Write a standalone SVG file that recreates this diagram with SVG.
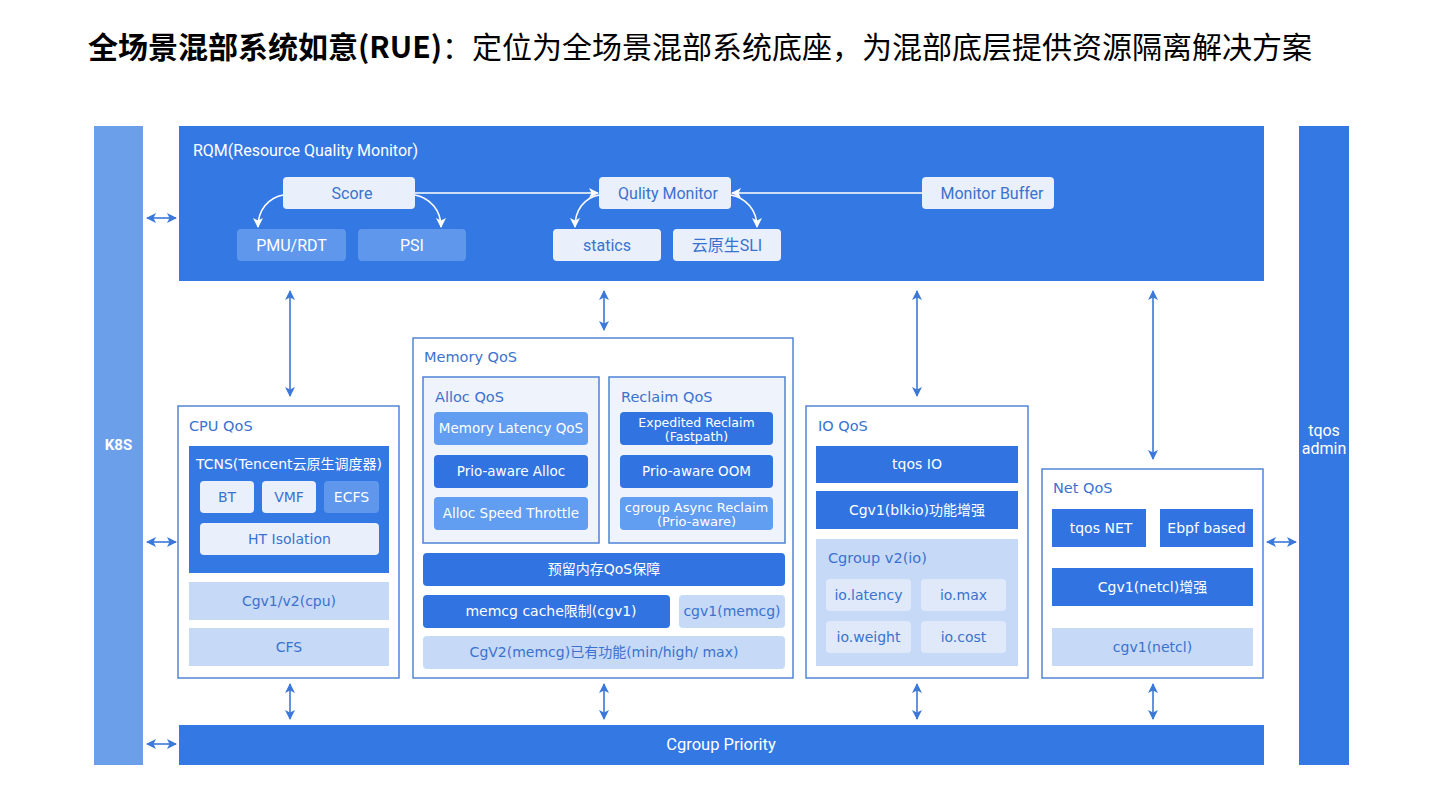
<svg xmlns="http://www.w3.org/2000/svg" width="1440" height="810" viewBox="0 0 1440 810">
<defs>
<style>
text{font-family:Roboto,"Noto Sans CJK SC",sans-serif;font-size:16px}
.m text{font-family:"DejaVu Sans","Noto Sans CJK SC",sans-serif;font-size:14px}
.m text.t{font-size:14.5px}
.w{fill:#ffffff}
.b{fill:#3a72cf}
.c{text-anchor:middle}
.main{fill:#3478e4}
.k8s{fill:#6b9fea}
.cont{fill:#ffffff;stroke:#5286d8;stroke-width:1.5}
.sub{fill:#eef3fc;stroke:#4f83d6;stroke-width:1.5}
.dark{fill:#3174e1}
.pale{fill:#c6d9f6}
.lite{fill:#619df0}
.node{fill:#e9f0fc}
.rlite{fill:#5e97ec}
.io{fill:#dfe9fa}
.conn{stroke:#3b78d9;stroke-width:1.6;fill:none}
.wconn{stroke:#ffffff;stroke-width:1.6;fill:none}
</style>
<marker id="ab" viewBox="0 0 10 10" refX="9" refY="5" markerWidth="10" markerHeight="10" markerUnits="userSpaceOnUse" orient="auto-start-reverse">
<path d="M0,0 L10,5 L0,10 L2.5,5 z" fill="#3b78d9"/>
</marker>
<marker id="aw" viewBox="0 0 10 10" refX="9" refY="5" markerWidth="10" markerHeight="10" markerUnits="userSpaceOnUse" orient="auto-start-reverse">
<path d="M0,0 L10,5 L0,10 L2.5,5 z" fill="#ffffff"/>
</marker>
</defs>
<rect width="1440" height="810" fill="#ffffff"/>

<text x="88" y="58" style="font-family:'Noto Sans CJK SC',sans-serif;font-size:30px" fill="#000"><tspan font-weight="bold">全场景混部系统如意(RUE)</tspan><tspan>：定位为全场景混部系统底座，为混部底层提供资源隔离解决方案</tspan></text>

<g id="k8s">
<rect class="k8s" x="94" y="126" width="49" height="639"/>
<text class="w c" x="118.5" y="450" font-weight="bold" style="font-size:15px">K8S</text>
</g>

<g id="tqos-admin">
<rect class="main" x="1299" y="126" width="50" height="639"/>
<text class="w c" x="1324" y="436">tqos</text>
<text class="w c" x="1324" y="454">admin</text>
</g>

<g id="rqm">
<rect class="main" x="179" y="126" width="1085" height="155"/>
<text class="w" x="193" y="156">RQM(Resource Quality Monitor)</text>
</g>
<g id="score"><rect class="node" x="283" y="177" width="132" height="32" rx="4"/><text class="b c" x="352" y="199">Score</text></g>
<g id="pmu"><rect class="rlite" x="237" y="229" width="109" height="32" rx="4"/><text class="w c" x="291.5" y="251">PMU/RDT</text></g>
<g id="psi"><rect class="rlite" x="358" y="229" width="108" height="32" rx="4"/><text class="w c" x="412" y="251">PSI</text></g>
<g id="qm"><rect class="node" x="599" y="177" width="132" height="32" rx="4"/><text class="b c" x="668" y="199">Qulity Monitor</text></g>
<g id="statics"><rect class="node" x="553" y="229" width="108" height="32" rx="4"/><text class="b c" x="607" y="251">statics</text></g>
<g id="sli"><rect class="node" x="673" y="229" width="108" height="32" rx="4"/><text class="b c" x="727" y="251">云原生SLI</text></g>
<g id="mb"><rect class="node" x="922" y="177" width="132" height="32" rx="4"/><text class="b c" x="992" y="199">Monitor Buffer</text></g>

<g id="cpu-qos" class="m">
<rect class="cont" x="178" y="406" width="221" height="272"/>
<text class="b t" x="189" y="431">CPU QoS</text>
<rect class="main" x="189" y="446" width="200" height="127"/>
<text class="w c" x="289" y="469">TCNS(Tencent云原生调度器)</text>
<rect class="node" x="200" y="481" width="54" height="32" rx="4"/><text class="b c" x="227" y="502">BT</text>
<rect class="node" x="262" y="481" width="54" height="32" rx="4"/><text class="b c" x="289" y="502">VMF</text>
<rect class="rlite" x="324" y="481" width="55" height="32" rx="4"/><text class="w c" x="351.5" y="502">ECFS</text>
<rect class="node" x="200" y="523" width="179" height="32" rx="4"/><text class="b c" x="289.5" y="544">HT Isolation</text>
<rect class="pale" x="189" y="582" width="200" height="38"/><text class="b c" x="289" y="606">Cgv1/v2(cpu)</text>
<rect class="pale" x="189" y="628" width="200" height="38"/><text class="b c" x="289" y="652">CFS</text>
</g>

<g id="memory-qos" class="m">
<rect class="cont" x="413" y="338" width="380" height="340"/>
<text class="b t" x="424" y="362">Memory QoS</text>
<rect class="sub" x="423" y="377" width="176" height="166"/>
<text class="b t" x="435" y="402">Alloc QoS</text>
<rect class="lite" x="434" y="412" width="154" height="33" rx="4"/><text class="w c" x="511" y="433" style="font-size:13.5px">Memory Latency QoS</text>
<rect class="dark" x="434" y="455" width="154" height="33" rx="4"/><text class="w c" x="511" y="476" style="font-size:13.5px">Prio-aware Alloc</text>
<rect class="lite" x="434" y="497" width="154" height="33" rx="4"/><text class="w c" x="511" y="518" style="font-size:13.5px">Alloc Speed Throttle</text>
<rect class="sub" x="609" y="377" width="176" height="166"/>
<text class="b t" x="621" y="402">Reclaim QoS</text>
<rect class="dark" x="620" y="412" width="153" height="33" rx="4"/><text class="w c" x="696.5" y="427" style="font-size:12.5px">Expedited Reclaim</text><text class="w c" x="696.5" y="441" style="font-size:12.5px">(Fastpath)</text>
<rect class="dark" x="620" y="455" width="153" height="33" rx="4"/><text class="w c" x="696.5" y="476" style="font-size:13.5px">Prio-aware OOM</text>
<rect class="lite" x="620" y="497" width="153" height="33" rx="4"/><text class="w c" x="696.5" y="512" style="font-size:13px">cgroup Async Reclaim</text><text class="w c" x="696.5" y="526" style="font-size:13px">(Prio-aware)</text>
<rect class="dark" x="423" y="553" width="362" height="33" rx="4"/><text class="w c" x="604" y="574">预留内存QoS保障</text>
<rect class="dark" x="423" y="595" width="247" height="33" rx="4"/><text class="w c" x="551" y="616">memcg cache限制(cgv1)</text>
<rect class="pale" x="679" y="595" width="106" height="33" rx="4"/><text class="b c" x="732" y="616">cgv1(memcg)</text>
<rect class="pale" x="423" y="636" width="362" height="33" rx="4"/><text class="b c" x="604" y="657">CgV2(memcg)已有功能(min/high/ max)</text>
</g>

<g id="io-qos" class="m">
<rect class="cont" x="806" y="406" width="222" height="272"/>
<text class="b t" x="818" y="431">IO QoS</text>
<rect class="dark" x="816" y="446" width="202" height="37"/><text class="w c" x="917" y="469">tqos IO</text>
<rect class="dark" x="816" y="491" width="202" height="38"/><text class="w c" x="917" y="515">Cgv1(blkio)功能增强</text>
<rect class="pale" x="816" y="539" width="202" height="127"/>
<text class="b t" x="828" y="563">Cgroup v2(io)</text>
<rect class="io" x="826" y="579" width="85" height="32" rx="4"/><text class="b c" x="868.5" y="600">io.latency</text>
<rect class="io" x="921" y="579" width="85" height="32" rx="4"/><text class="b c" x="963.5" y="600">io.max</text>
<rect class="io" x="826" y="621" width="85" height="32" rx="4"/><text class="b c" x="868.5" y="642">io.weight</text>
<rect class="io" x="921" y="621" width="85" height="32" rx="4"/><text class="b c" x="963.5" y="642">io.cost</text>
</g>

<g id="net-qos" class="m">
<rect class="cont" x="1042" y="469" width="221" height="209"/>
<text class="b t" x="1053" y="493">Net QoS</text>
<rect class="dark" x="1052" y="509" width="94" height="38"/><text class="w c" x="1101" y="533">tqos NET</text>
<rect class="dark" x="1160" y="509" width="93" height="38"/><text class="w c" x="1206.5" y="533">Ebpf based</text>
<rect class="dark" x="1052" y="568" width="201" height="38"/><text class="w c" x="1152.5" y="592">Cgv1(netcl)增强</text>
<rect class="pale" x="1052" y="628" width="201" height="38"/><text class="b c" x="1152.5" y="652">cgv1(netcl)</text>
</g>

<g id="cgroup-priority">
<rect class="main" x="179" y="725" width="1085" height="40"/>
<text class="w c" x="721" y="750" style="font-size:16.5px">Cgroup Priority</text>
</g>

<g id="connectors">
<line class="wconn" x1="415" y1="193" x2="598" y2="193" marker-end="url(#aw)"/>
<line class="wconn" x1="922" y1="193" x2="732" y2="193" marker-end="url(#aw)"/>
<path class="wconn" d="M283,195 C268,198 258,210 258,227" marker-end="url(#aw)"/>
<path class="wconn" d="M415,195 C430,198 441,210 441,227" marker-end="url(#aw)"/>
<path class="wconn" d="M599,195 C584,198 575,210 575,227" marker-end="url(#aw)"/>
<path class="wconn" d="M731,195 C746,198 757,210 757,227" marker-end="url(#aw)"/>

<line class="conn" x1="290" y1="291" x2="290" y2="396" marker-start="url(#ab)" marker-end="url(#ab)"/>
<line class="conn" x1="604" y1="291" x2="604" y2="330" marker-start="url(#ab)" marker-end="url(#ab)"/>
<line class="conn" x1="917" y1="291" x2="917" y2="396" marker-start="url(#ab)" marker-end="url(#ab)"/>
<line class="conn" x1="1153" y1="291" x2="1153" y2="459" marker-start="url(#ab)" marker-end="url(#ab)"/>

<line class="conn" x1="290" y1="684" x2="290" y2="719" marker-start="url(#ab)" marker-end="url(#ab)"/>
<line class="conn" x1="604" y1="684" x2="604" y2="719" marker-start="url(#ab)" marker-end="url(#ab)"/>
<line class="conn" x1="917" y1="684" x2="917" y2="719" marker-start="url(#ab)" marker-end="url(#ab)"/>
<line class="conn" x1="1153" y1="684" x2="1153" y2="719" marker-start="url(#ab)" marker-end="url(#ab)"/>

<line class="conn" x1="147" y1="218" x2="176" y2="218" marker-start="url(#ab)" marker-end="url(#ab)"/>
<line class="conn" x1="147" y1="542" x2="176" y2="542" marker-start="url(#ab)" marker-end="url(#ab)"/>
<line class="conn" x1="147" y1="744" x2="176" y2="744" marker-start="url(#ab)" marker-end="url(#ab)"/>
<line class="conn" x1="1267" y1="542" x2="1296" y2="542" marker-start="url(#ab)" marker-end="url(#ab)"/>
</g>
</svg>
